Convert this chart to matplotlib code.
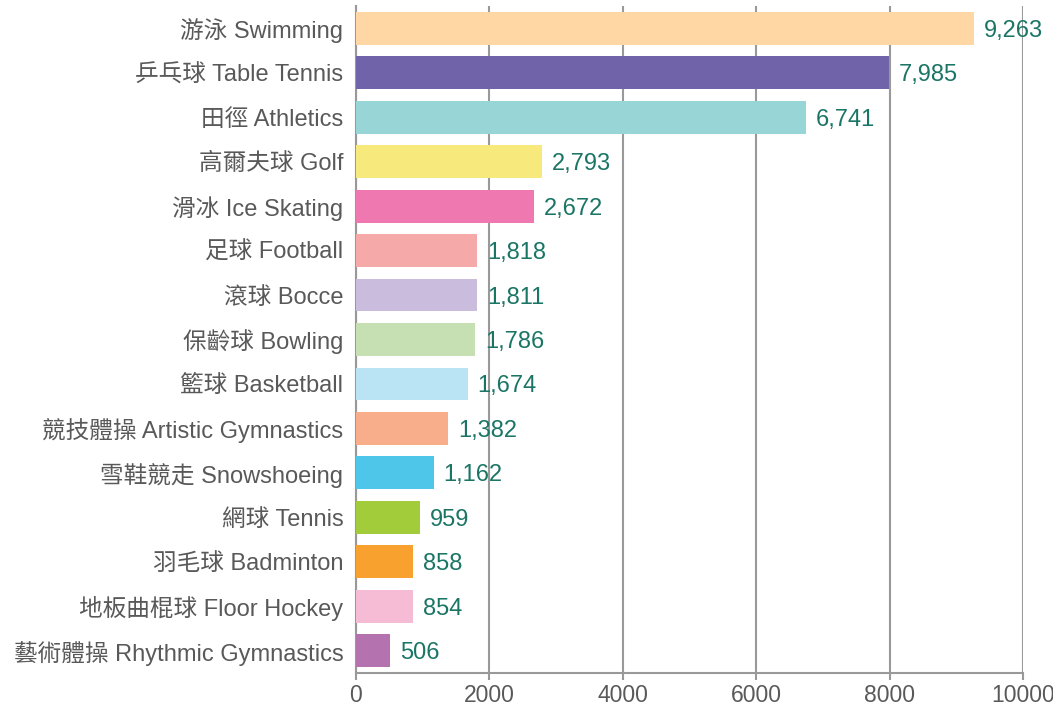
import matplotlib
matplotlib.use("Agg")
import matplotlib.pyplot as plt

categories = ["游泳 Swimming", "乒乓球 Table Tennis", "田徑 Athletics", "高爾夫球 Golf",
              "滑冰 Ice Skating", "足球 Football", "滾球 Bocce", "保齡球 Bowling",
              "籃球 Basketball", "競技體操 Artistic Gymnastics", "雪鞋競走 Snowshoeing",
              "網球 Tennis", "羽毛球 Badminton", "地板曲棍球 Floor Hockey",
              "藝術體操 Rhythmic Gymnastics"]
values = [9263, 7985, 6741, 2793, 2672, 1818, 1811, 1786, 1674, 1382, 1162, 959, 858, 854, 506]
colors = ["#FED7A4", "#7163A9", "#97D5D6", "#F7E97C", "#EF78B0", "#F6A9A9", "#CABCDC",
          "#C6E0B4", "#BAE3F4", "#F8AE8A", "#4DC6EA", "#A2CC3A", "#F9A12F", "#F6BCD6", "#B472AE"]
xticks = [0, 2000, 4000, 6000, 8000, 10000]

plt.rcParams['font.family'] = ['Liberation Sans', 'Noto Sans CJK TC', 'DejaVu Sans']

fig = plt.figure(figsize=(10.53, 7.05), dpi=100)
ax = fig.add_axes([356/1053, 1-673/705, (1023-356)/1053, (673-6)/705])

y = list(range(len(categories)))
ax.barh(y, values, color=colors, height=0.74, zorder=3)
ax.set_ylim(len(categories)-0.5, -0.5)
ax.set_xlim(0, 10000)
ax.set_yticks(y)
ax.set_yticklabels(categories, fontsize=17, color="#595959")
ax.set_xticks(xticks)
ax.set_xticklabels([str(t) for t in xticks], fontsize=16.5, color="#595959")
ax.tick_params(axis='y', length=0, pad=9)
ax.tick_params(axis='x', length=5, color="#999999", width=1.5, pad=3)
ax.grid(axis='x', color="#999999", linewidth=1.5, zorder=0)
for s in ['top', 'right']:
    ax.spines[s].set_visible(False)
for s in ['left', 'bottom']:
    ax.spines[s].set_color("#999999")
    ax.spines[s].set_linewidth(1.5)

for yi, v in zip(y, values):
    ax.text(v + 150, yi, f"{v:,}", va='center_baseline', ha='left', fontsize=17,
            color="#1B7565", zorder=4)

fig.savefig("out.png", dpi=100)
